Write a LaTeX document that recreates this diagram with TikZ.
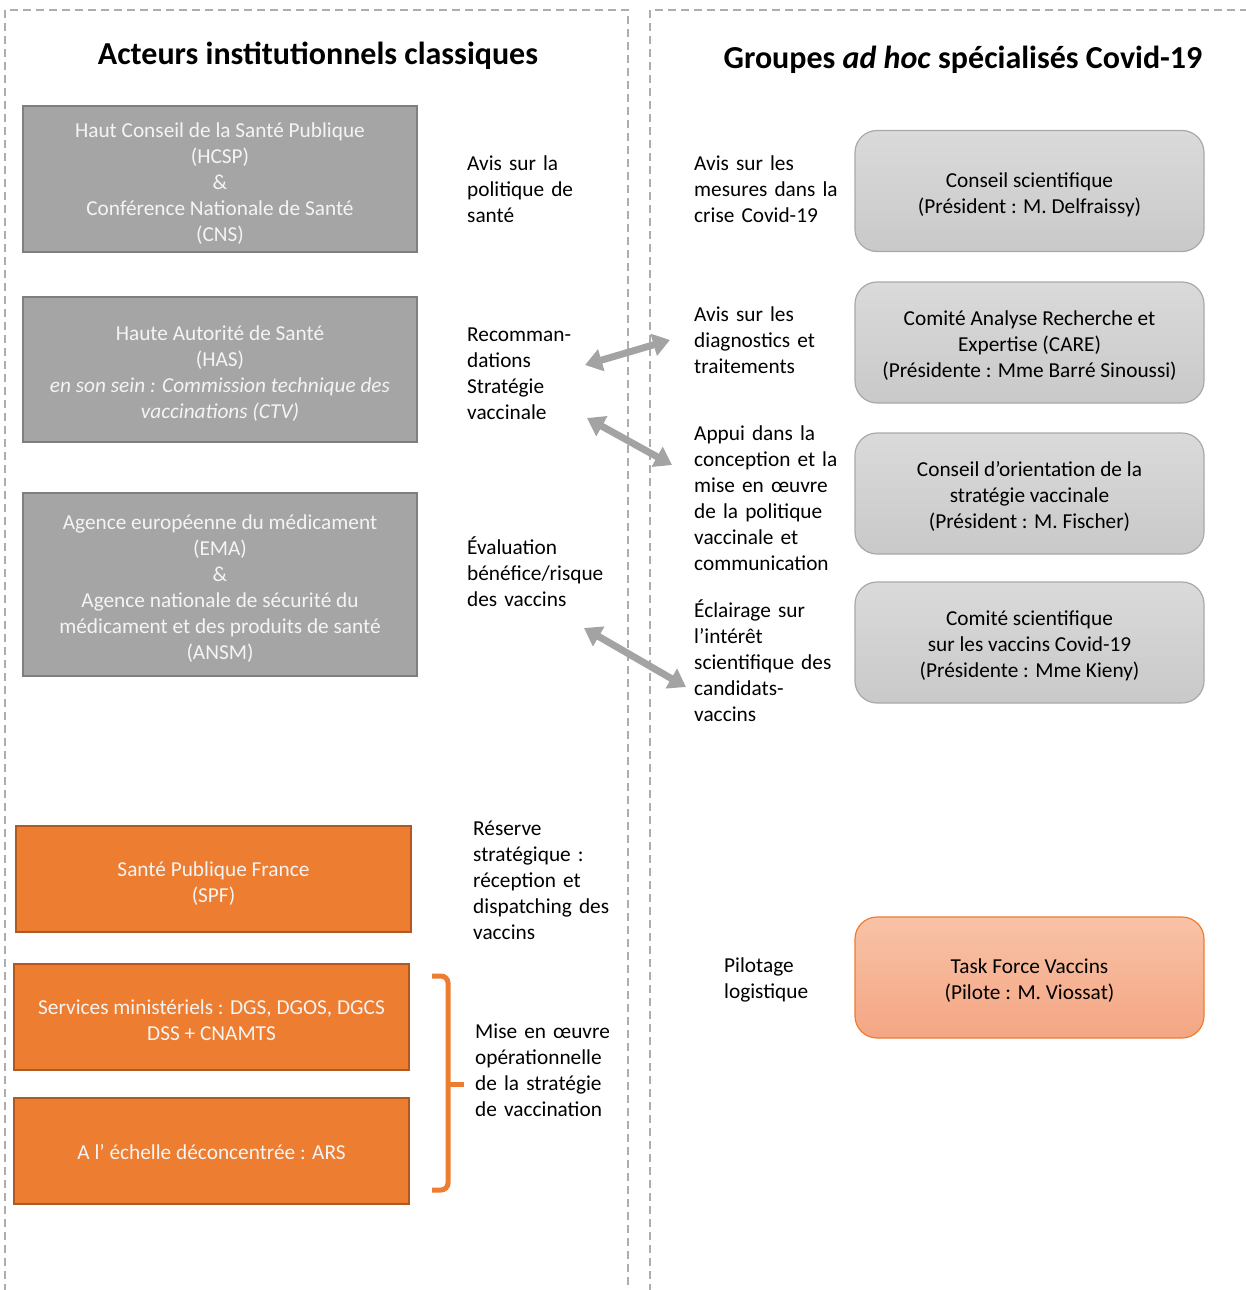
\documentclass[tikz,border=0pt]{standalone}
\usepackage{fontspec}
\setmainfont{Carlito}
\usetikzlibrary{arrows.meta}
\definecolor{gbox}{HTML}{A5A5A5}
\definecolor{gboxb}{HTML}{7F7F7F}
\definecolor{obox}{HTML}{ED7D31}
\definecolor{oboxb}{HTML}{AE5A21}
\definecolor{dashc}{HTML}{ADADAD}
\definecolor{arrg}{HTML}{A3A3A3}
\definecolor{rtop}{HTML}{DADADA}
\definecolor{rbot}{HTML}{C9C9C9}
\definecolor{rbord}{HTML}{A9A9A9}
\definecolor{ttop}{HTML}{F8C2A7}
\definecolor{tbot}{HTML}{F4A683}
\definecolor{boxtext}{HTML}{F4F4F4}
\newcommand\topstrutx{\rule{0pt}{28pt}}
\newcommand\botstrutx{\rule[-8pt]{0pt}{0pt}}
\begin{document}
\begin{tikzpicture}[x=1pt,y=-1pt,
  bodyfont/.style={font=\fontsize{21.3}{26}\selectfont},
  graybox/.style={bodyfont, rectangle, fill=gbox, draw=gboxb, line width=2.5pt, text=boxtext, align=center, minimum width=394pt, inner sep=0pt},
  orangebox/.style={bodyfont, rectangle, fill=obox, draw=oboxb, line width=2.5pt, text=boxtext, align=center, minimum width=395pt, minimum height=106pt, inner sep=0pt},
  roundbox/.style={bodyfont, rectangle, rounded corners=22pt, top color=rtop, bottom color=rbot, draw=rbord, line width=1.2pt, text=black, align=center, minimum width=349pt, minimum height=121pt, inner sep=0pt},
  taskbox/.style={roundbox, top color=ttop, bottom color=tbot, draw=obox},
  sidelbl/.style={bodyfont, anchor=base west, text width=200pt, align=left, inner sep=0pt, text=black},
  titlelbl/.style={font=\fontsize{32}{38}\selectfont\bfseries, inner sep=0pt, text=black},
  dashframe/.style={draw=dashc, line width=2.5pt, dash pattern=on 8pt off 5pt},
  dblarrow/.style={draw=arrg, line width=7pt, {Triangle[width=22pt,length=17pt]}-{Triangle[width=22pt,length=17pt]}},
  bracketline/.style={draw=obox, line width=5pt, rounded corners=7pt}
]
\useasboundingbox (0,0) rectangle (1245,1290);

% frames
\draw[dashframe] (5,1292) -- (5,10) -- (628,10) -- (628,1292);
\draw[dashframe] (650,1292) -- (650,10) -- (1250,10);

% titles
\node[titlelbl] (tleft) at (318,56) {Acteurs institutionnels classiques};
\node[titlelbl] (tright) at (963,60) {Groupes \textit{ad hoc} spécialisés Covid-19};

% left boxes
\node[graybox, minimum height=146pt] (hcsp) at (220,179) {\topstrutx Haut Conseil de la Santé Publique\\(HCSP)\\\&\\Conférence Nationale de Santé\\(CNS)\botstrutx};
\node[graybox, minimum height=145pt] (has) at (220,369.5) {\topstrutx Haute Autorité de Santé\\(HAS)\\\textit{en son sein : Commission technique des}\\\textit{vaccinations (CTV)}\botstrutx};
\node[graybox, minimum height=183pt] (ema) at (220,584.5) {\topstrutx Agence européenne du médicament\\(EMA)\\\&\\Agence nationale de sécurité du\\médicament et des produits de santé\\(ANSM)\botstrutx};

\node[orangebox] (spf) at (213.5,879) {\topstrutx Santé Publique France\\(SPF)\botstrutx};
\node[orangebox] (sm) at (211.5,1017) {\topstrutx Services ministériels : DGS, DGOS, DGCS\\DSS + CNAMTS\botstrutx};
\node[orangebox] (ars) at (211.5,1151) {\rule{0pt}{24pt}A l’ échelle déconcentrée : ARS\botstrutx};

% middle labels (left column)
\node[sidelbl] (l1) at (467,170) {Avis sur la\\politique de\\santé};
\node[sidelbl] (l2) at (467,341) {Recomman-\\dations\\Stratégie\\vaccinale};
\node[sidelbl] (l3) at (467,554) {Évaluation\\bénéfice/risque\\des vaccins};
\node[sidelbl] (l4) at (473,835) {Réserve\\stratégique :\\réception et\\dispatching des\\vaccins};
\node[sidelbl] (l5) at (475,1038) {Mise en œuvre\\opérationnelle\\de la stratégie\\de vaccination};

% middle labels (right column)
\node[sidelbl] (r1) at (694,170) {Avis sur les\\mesures dans la\\crise Covid-19};
\node[sidelbl] (r2) at (694,321) {Avis sur les\\diagnostics et\\traitements};
\node[sidelbl] (r3) at (694,440) {Appui dans la\\conception et la\\mise en œuvre\\de la politique\\vaccinale et\\communication};
\node[sidelbl] (r4) at (694,617) {Éclairage sur\\l’intérêt\\scientifique des\\candidats-\\vaccins};
\node[sidelbl] (r5) at (724,972) {Pilotage\\logistique};

% right boxes
\node[roundbox] (cs) at (1029.5,191) {\rule{0pt}{26pt}Conseil scientifique\\(Président : M. Delfraissy)\botstrutx};
\node[roundbox] (care) at (1029.5,342.5) {\rule{0pt}{26pt}Comité Analyse Recherche et\\Expertise (CARE)\\(Présidente : Mme Barré Sinoussi)\botstrutx};
\node[roundbox] (cosv) at (1029.5,493.5) {\rule{0pt}{26pt}Conseil d’orientation de la\\stratégie vaccinale\\(Président : M. Fischer)\botstrutx};
\node[roundbox] (csv) at (1029.5,642.5) {\rule{0pt}{26pt}Comité scientifique\\sur les vaccins Covid-19\\(Présidente : Mme Kieny)\botstrutx};
\node[taskbox] (tfv) at (1029.5,977.5) {\rule{0pt}{26pt}Task Force Vaccins\\(Pilote : M. Viossat)\botstrutx};

% arrows
\coordinate (a1l) at (585,365);
\coordinate (a1r) at (670,340);
\coordinate (a2l) at (587,418);
\coordinate (a2r) at (672,465);
\coordinate (a3l) at (584,628);
\coordinate (a3r) at (686,687);
\draw[dblarrow] (a1l) -- (a1r);
\draw[dblarrow] (a2l) -- (a2r);
\draw[dblarrow] (a3l) -- (a3r);

% bracket
\coordinate (bt) at (432,976);
\coordinate (bb) at (432,1190);
\coordinate (bm) at (448,1084);
\coordinate (btip) at (464,1084);
\draw[bracketline] (bt) -- (448,976) -- (448,1190) -- (bb);
\draw[draw=obox, line width=5pt] (bm) -- (btip);
\end{tikzpicture}
\end{document}
